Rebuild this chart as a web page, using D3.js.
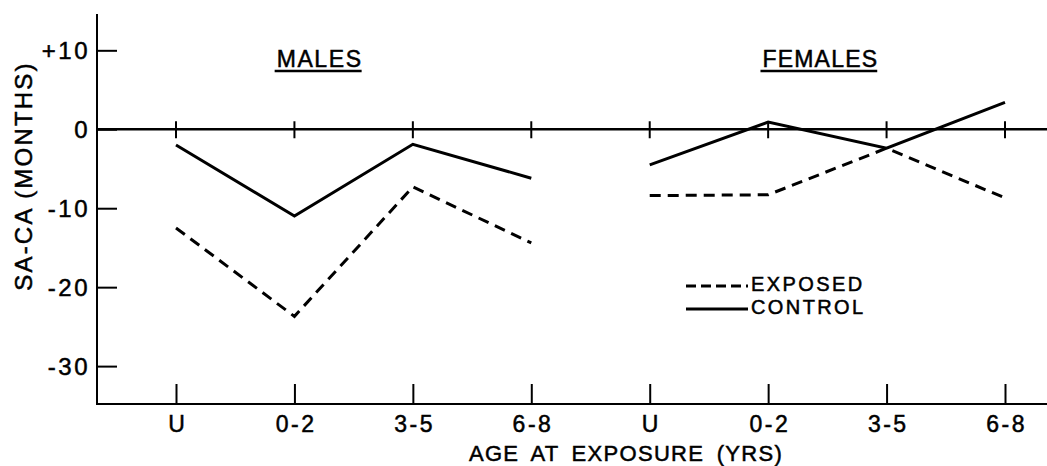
<!DOCTYPE html>
<html>
<head>
<meta charset="utf-8">
<script src="https://cdn.jsdelivr.net/npm/d3@7"></script>
<style>
  html, body { margin: 0; padding: 0; background: #fff; }
  svg { display: block; }
  text { font-family: "Liberation Sans", Arial, sans-serif; fill: #000; stroke: #000; stroke-width: 0.5; }
</style>
</head>
<body>
<svg id="chart" width="1047" height="466"></svg>
<script>
// ---- data ----
const categories = ["M-U", "M-0-2", "M-3-5", "M-6-8", "F-U", "F-0-2", "F-3-5", "F-6-8"];
const tickLabels = ["U", "0-2", "3-5", "6-8", "U", "0-2", "3-5", "6-8"];
const yTicks = [10, 0, -10, -20, -30];
const groupLabels = ["MALES", "FEMALES"];
const malesKeys = ["M-U", "M-0-2", "M-3-5", "M-6-8"];
const femalesKeys = ["F-U", "F-0-2", "F-3-5", "F-6-8"];
const malesControl = [-2.0, -11.0, -1.9, -6.2];
const malesExposed = [-12.5, -23.7, -7.3, -14.4];
const femalesControl = [-4.5, 0.9, -2.4, 3.4];
const femalesExposed = [-8.4, -8.3, -2.4, -8.7];
const legendLabels = ["EXPOSED", "CONTROL"];

// ---- layout ----
const mLeft = 97, mRight = 1047, mTop = 14, mBottom = 404;
const FONT = "Liberation Sans, Arial, sans-serif";
const svg = d3.select("#chart");

const x = d3.scalePoint().domain(categories).range([176, 1005]);
const y = d3.scaleLinear().domain([-34.8, 14.6]).range([mBottom, mTop]);

const ink = "#000";

// y axis
const yAxis = d3.axisLeft(y).tickValues(yTicks)
  .tickSizeInner(-20).tickSizeOuter(0).tickPadding(7)
  .tickFormat(d => d > 0 ? "+" + d : String(d));
const gy = svg.append("g").attr("transform", `translate(${mLeft},0)`).call(yAxis);
gy.select(".domain").remove();
gy.selectAll(".tick line").attr("stroke", ink).attr("stroke-width", 2);
gy.selectAll(".tick text").attr("font-size", 24).attr("dy", "0.36em")
  .attr("letter-spacing", 2.5)
  .attr("font-family", FONT).attr("fill", ink);
svg.append("line").attr("x1", mLeft).attr("x2", mLeft).attr("y1", mTop).attr("y2", mBottom + 1)
  .attr("stroke", ink).attr("stroke-width", 2);

// x axis
const xAxis = d3.axisBottom(x).tickSizeInner(-20).tickSizeOuter(0).tickPadding(12)
  .tickFormat((d, i) => tickLabels[i]);
const gx = svg.append("g").attr("transform", `translate(0,${mBottom})`).call(xAxis);
gx.select(".domain").remove();
gx.selectAll(".tick line").attr("stroke", ink).attr("stroke-width", 2);
gx.selectAll(".tick text").attr("font-size", 23).attr("letter-spacing", 2.5)
  .attr("dx", 1.2)
  .attr("font-family", FONT).attr("fill", ink);
svg.append("line").attr("x1", mLeft - 1).attr("x2", mRight).attr("y1", mBottom).attr("y2", mBottom)
  .attr("stroke", ink).attr("stroke-width", 2);

// zero line with small crosses
svg.append("line").attr("x1", mLeft).attr("x2", mRight).attr("y1", y(0)).attr("y2", y(0))
  .attr("stroke", ink).attr("stroke-width", 2.5);
svg.append("g").selectAll("line").data(categories).join("line")
  .attr("x1", d => x(d)).attr("x2", d => x(d))
  .attr("y1", y(0) - 8).attr("y2", y(0) + 9)
  .attr("stroke", ink).attr("stroke-width", 2);

// axis titles
svg.append("text")
  .attr("transform", `translate(32,176) rotate(-90)`)
  .attr("text-anchor", "middle").attr("font-size", 24).attr("letter-spacing", 2.2)
  .text("SA-CA (MONTHS)");
svg.append("text")
  .attr("x", 626).attr("y", 461)
  .attr("text-anchor", "middle").attr("font-size", 22).attr("letter-spacing", 1.3)
  .attr("word-spacing", 5)
  .text("AGE  AT  EXPOSURE (YRS)");

// group labels (underlined)
const groupPos = [d3.mean(malesKeys, k => x(k)) - 34, d3.mean(femalesKeys, k => x(k)) - 7];
groupLabels.forEach((lab, i) => {
  const t = svg.append("text").attr("x", groupPos[i]).attr("y", 67)
    .attr("text-anchor", "middle").attr("font-size", 23).attr("letter-spacing", i === 1 ? 1.2 : 1.6)
    .attr("stroke-width", i === 1 ? 1.1 : 0.5)
    .text(lab);
  const bb = t.node().getBBox();
  svg.append("line").attr("x1", bb.x - 2).attr("x2", bb.x + bb.width - 1)
    .attr("y1", 71).attr("y2", 71).attr("stroke", ink).attr("stroke-width", 2.5);
});

// series
const line = d3.line().x(d => x(d.k)).y(d => y(d.v));
const zip = (keys, vals) => keys.map((k, i) => ({ k, v: vals[i] }));
const series = [
  { data: zip(malesKeys, malesControl), dash: null },
  { data: zip(malesKeys, malesExposed), dash: "11,7" },
  { data: zip(femalesKeys, femalesControl), dash: null },
  { data: zip(femalesKeys, femalesExposed), dash: "11,7" }
];
svg.append("g").selectAll("path").data(series).join("path")
  .attr("d", d => line(d.data))
  .attr("fill", "none").attr("stroke", ink).attr("stroke-width", 3)
  .attr("stroke-dasharray", d => d.dash)
  .attr("stroke-linejoin", "miter");

// legend
const legY = [284, 307];
legendLabels.forEach((lab, i) => {
  svg.append("line").attr("x1", 686).attr("x2", 748)
    .attr("y1", legY[i] + 2).attr("y2", legY[i] + 2)
    .attr("stroke", ink).attr("stroke-width", 3)
    .attr("stroke-dasharray", i === 0 ? "10,5" : null);
  svg.append("text").attr("x", 751).attr("y", legY[i]).attr("dy", "0.36em")
    .attr("font-size", 20).attr("letter-spacing", 2.4).text(lab);
});
</script>
</body>
</html>
